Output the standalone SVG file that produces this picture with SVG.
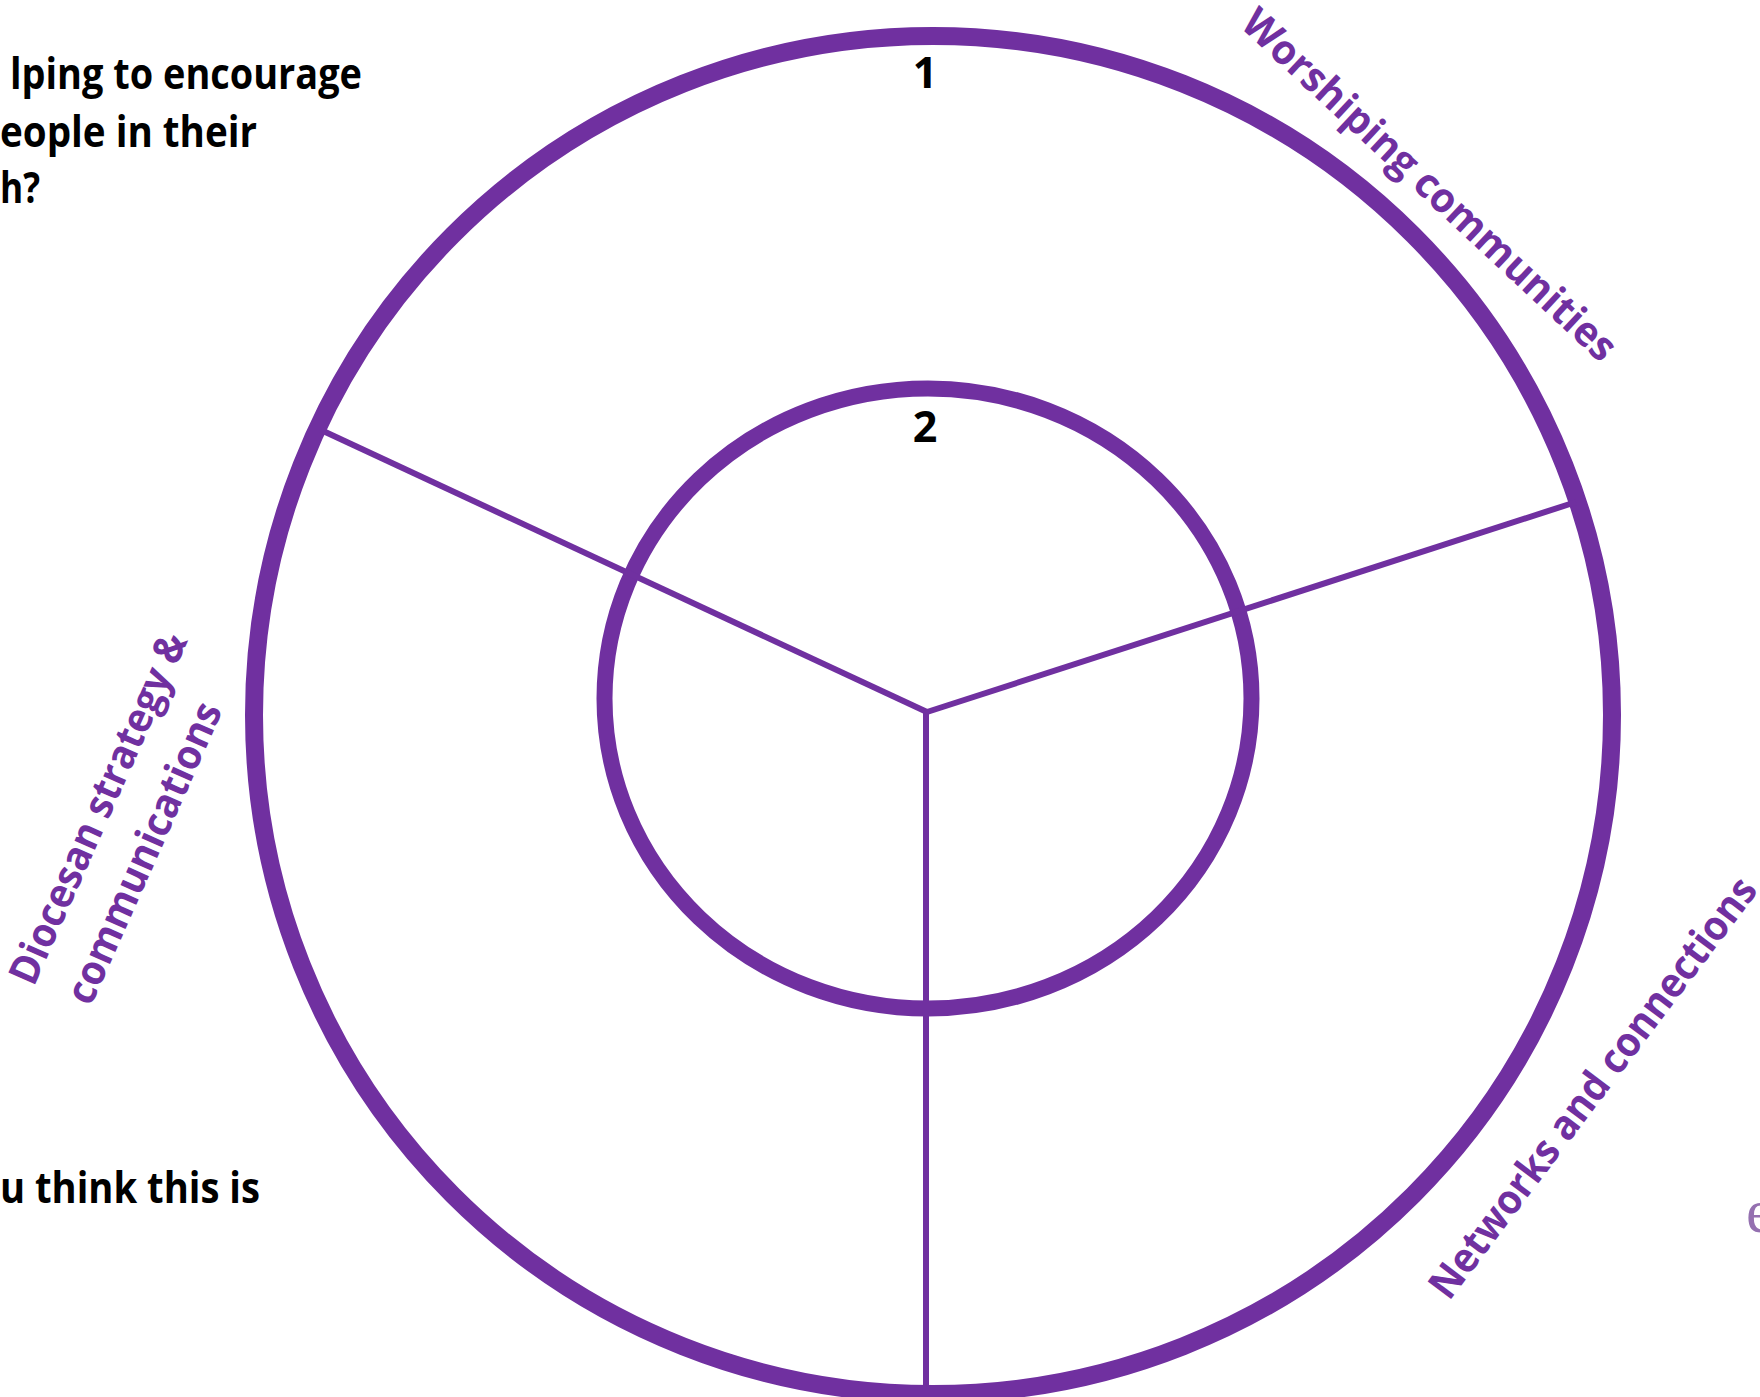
<svg xmlns="http://www.w3.org/2000/svg" width="1760" height="1397" viewBox="0 0 1760 1397">
<style>
.ring{fill:none;stroke:#7030A0}
.spoke{stroke:#7030A0;stroke-width:6;fill:none}
.q{font-family:"Open Sans",Lato,"Liberation Sans",sans-serif;font-weight:bold;font-size:43px;fill:#000}
.num{font-family:"Open Sans",Lato,"Liberation Sans",sans-serif;font-weight:bold;font-size:43px;fill:#000;text-anchor:middle}
.lab{font-family:"Open Sans",Lato,"Liberation Sans",sans-serif;font-weight:bold;font-size:41px;fill:#7030A0;text-anchor:middle}
</style>
<rect width="1760" height="1397" fill="#fff"/>
<g id="question-text">
<text class="q" x="10" y="89" textLength="352" lengthAdjust="spacingAndGlyphs">lping to encourage</text>
<text class="q" x="0" y="147" textLength="257" lengthAdjust="spacingAndGlyphs">eople in their</text>
<text class="q" x="0" y="203" textLength="40" lengthAdjust="spacingAndGlyphs">h?</text>
<text class="q" x="0" y="1203" textLength="260" lengthAdjust="spacingAndGlyphs">u think this is</text>
</g>
<g id="outer-ring"><circle class="ring" cx="933" cy="715" r="679" stroke-width="18"/></g>
<g id="inner-ring"><ellipse class="ring" cx="928" cy="698.5" rx="323.5" ry="310" stroke-width="16"/></g>
<g id="connectors">
<line class="spoke" x1="927" y1="712" x2="321" y2="430"/>
<line class="spoke" x1="927" y1="712" x2="1576" y2="502"/>
<line class="spoke" x1="926" y1="710" x2="926" y2="1397"/>
</g>
<g id="label-1"><text class="num" x="925" y="88">1</text></g>
<g id="label-2"><text class="num" x="925" y="442">2</text></g>
<g id="worshiping"><text class="lab" transform="translate(1420,195) rotate(43)" textLength="495" lengthAdjust="spacingAndGlyphs">Worshiping communities</text></g>
<g id="networks"><text class="lab" transform="translate(1604,1096) rotate(-53)" textLength="515" lengthAdjust="spacingAndGlyphs">Networks and connections</text></g>
<g id="diocesan" transform="translate(111,814) rotate(-66)">
<text class="lab" x="0" y="0" textLength="380" lengthAdjust="spacingAndGlyphs">Diocesan strategy &amp;</text>
<text class="lab" x="-22" y="60" textLength="325" lengthAdjust="spacingAndGlyphs">communications</text>
</g>
<text x="1746" y="1232" font-family="'Liberation Serif',serif" font-size="62" fill="#9470b0">e</text>
</svg>
